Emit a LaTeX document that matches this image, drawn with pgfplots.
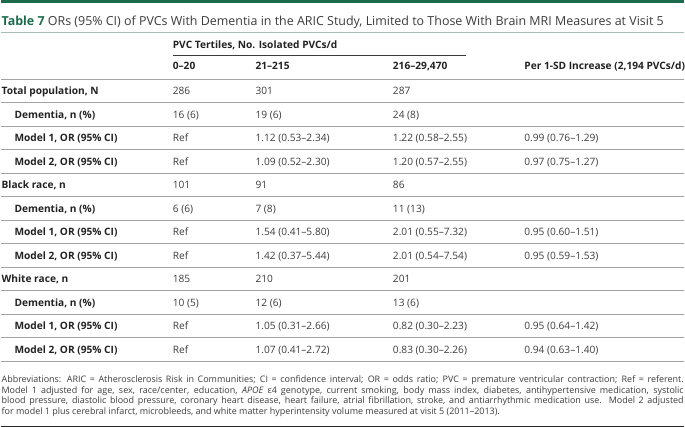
\documentclass[border=0pt]{standalone}
\usepackage{fontspec}
\setmainfont{Open Sans}
\usepackage{pgfplots}
\pgfplotsset{compat=1.18}
\definecolor{jgreen}{HTML}{1B6B4C}
\definecolor{titlerule}{HTML}{A8BFB3}
\definecolor{rulegray}{HTML}{A3A3A3}
\definecolor{lblcol}{HTML}{222222}
\definecolor{valcol}{HTML}{3C3C3C}
\begin{document}
\begin{tikzpicture}
\begin{axis}[
  scale only axis, width=685pt, height=430pt,
  xmin=0, xmax=685, ymin=0, ymax=430, y dir=reverse,
  hide axis, clip=false,
  every node near coord/.append style={anchor=base west, inner sep=0pt, font=\fontsize{10.2}{12}\selectfont},
]
% frame rules
\draw[jgreen, line width=2.8pt] (axis cs:0,1.4) -- (axis cs:685,1.4);
\draw[titlerule, line width=1pt] (axis cs:0,32.5) -- (axis cs:685,32.5);
\draw[valcol, line width=0.7pt] (axis cs:172,56) -- (axis cs:467,56);
\pgfplotsinvokeforeach{79.5,103.1,126.7,150.3,173.9,197.5,221.1,244.7,268.3,291.9,315.5,339.1,362.7}{
  \draw[rulegray, line width=1.1pt] (axis cs:0,#1) -- (axis cs:685,#1);
}
\draw[black!85, line width=1.3pt] (axis cs:0,428) -- (axis cs:685,428);
% title
\node[anchor=base west, inner sep=0pt, font=\fontsize{12.5}{14}\selectfont] at (axis cs:0,25.5)
  {\textcolor{jgreen}{\bfseries Table 7}\ \textcolor{valcol}{ORs (95\% CI) of PVCs With Dementia in the ARIC Study, Limited to Those With Brain MRI Measures at Visit 5}};
% header
\node[anchor=base west, inner sep=0pt, font=\fontsize{10.2}{12}\selectfont\bfseries, text=lblcol] at (axis cs:172,49.2) {PVC Tertiles, No. Isolated PVCs/d};
\addplot[draw=none, mark=none, nodes near coords, point meta=explicit symbolic,
  every node near coord/.append style={font=\fontsize{10.2}{12}\selectfont\bfseries, text=lblcol}]
  coordinates {(172,69.8) [0–20] (255,69.8) [21–215] (393,69.8) [216–29,470] (525,69.8) [Per 1-SD Increase (2,194 PVCs/d)]};
% row labels (group)
\addplot[draw=none, mark=none, nodes near coords, point meta=explicit symbolic,
  every node near coord/.append style={font=\fontsize{10.2}{12}\selectfont\bfseries, text=lblcol}]
  coordinates {(0,94.9) [Total population, N] (0,189.3) [Black race, n] (0,283.7) [White race, n]};
% row labels (indented)
\addplot[draw=none, mark=none, nodes near coords, point meta=explicit symbolic,
  every node near coord/.append style={font=\fontsize{10.2}{12}\selectfont\bfseries, text=lblcol}]
  coordinates {
  (13,118.5) [Dementia, n (\%)] (13,142.1) [Model 1, OR (95\% CI)] (13,165.7) [Model 2, OR (95\% CI)]
  (13,212.9) [Dementia, n (\%)] (13,236.5) [Model 1, OR (95\% CI)] (13,260.1) [Model 2, OR (95\% CI)]
  (13,307.3) [Dementia, n (\%)] (13,330.9) [Model 1, OR (95\% CI)] (13,354.5) [Model 2, OR (95\% CI)]};
% column 0-20
\addplot[draw=none, mark=none, nodes near coords, point meta=explicit symbolic,
  every node near coord/.append style={text=valcol}]
  coordinates {(172,94.9) [286] (172,118.5) [16 (6)] (172,142.1) [Ref] (172,165.7) [Ref]
  (172,189.3) [101] (172,212.9) [6 (6)] (172,236.5) [Ref] (172,260.1) [Ref]
  (172,283.7) [185] (172,307.3) [10 (5)] (172,330.9) [Ref] (172,354.5) [Ref]};
% column 21-215
\addplot[draw=none, mark=none, nodes near coords, point meta=explicit symbolic,
  every node near coord/.append style={text=valcol}]
  coordinates {(255,94.9) [301] (255,118.5) [19 (6)] (255,142.1) [1.12 (0.53–2.34)] (255,165.7) [1.09 (0.52–2.30)]
  (255,189.3) [91] (255,212.9) [7 (8)] (255,236.5) [1.54 (0.41–5.80)] (255,260.1) [1.42 (0.37–5.44)]
  (255,283.7) [210] (255,307.3) [12 (6)] (255,330.9) [1.05 (0.31–2.66)] (255,354.5) [1.07 (0.41–2.72)]};
% column 216-29470
\addplot[draw=none, mark=none, nodes near coords, point meta=explicit symbolic,
  every node near coord/.append style={text=valcol}]
  coordinates {(393,94.9) [287] (393,118.5) [24 (8)] (393,142.1) [1.22 (0.58–2.55)] (393,165.7) [1.20 (0.57–2.55)]
  (393,189.3) [86] (393,212.9) [11 (13)] (393,236.5) [2.01 (0.55–7.32)] (393,260.1) [2.01 (0.54–7.54)]
  (393,283.7) [201] (393,307.3) [13 (6)] (393,330.9) [0.82 (0.30–2.23)] (393,354.5) [0.83 (0.30–2.26)]};
% column per 1-SD
\addplot[draw=none, mark=none, nodes near coords, point meta=explicit symbolic,
  every node near coord/.append style={text=valcol}]
  coordinates {(525,142.1) [0.99 (0.76–1.29)] (525,165.7) [0.97 (0.75–1.27)]
  (525,236.5) [0.95 (0.60–1.51)] (525,260.1) [0.95 (0.59–1.53)]
  (525,330.9) [0.95 (0.64–1.42)] (525,354.5) [0.94 (0.63–1.40)]};
% footnote
\node[anchor=base west, inner sep=0pt, text width=685pt, align=justify, text=valcol,
  font=\fontsize{9}{10.8}\selectfont] at (axis cs:0,384)
  {Abbreviations: ARIC = Atherosclerosis Risk in Communities; CI = confidence interval; OR = odds ratio; PVC = premature ventricular contraction; Ref = referent.\linebreak
  Model 1 adjusted for age, sex, race/center, education, \textit{APOE} ε4 genotype, current smoking, body mass index, diabetes, antihypertensive medication, systolic\linebreak
  blood pressure, diastolic blood pressure, coronary heart disease, heart failure, atrial fibrillation, stroke, and antiarrhythmic medication use. Model 2 adjusted\linebreak
  for model 1 plus cerebral infarct, microbleeds, and white matter hyperintensity volume measured at visit 5 (2011–2013).\par};
\end{axis}
\end{tikzpicture}
\end{document}
